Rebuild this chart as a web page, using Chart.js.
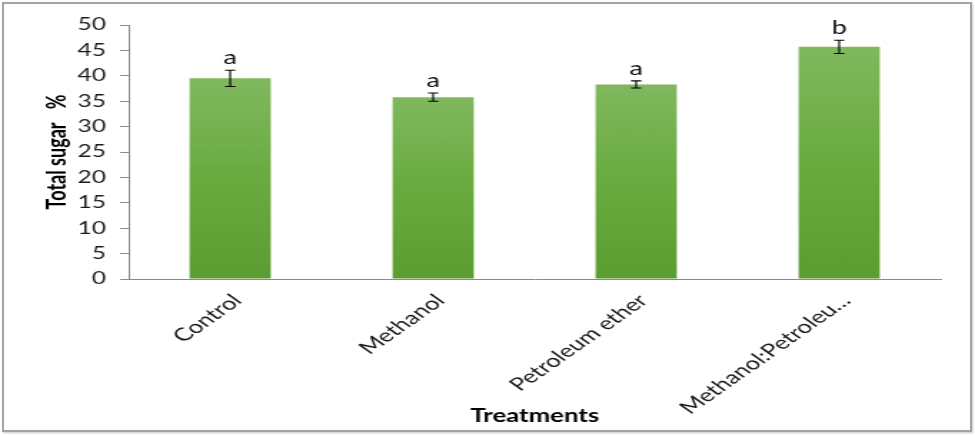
<!DOCTYPE html>
<html>
<head>
<meta charset="utf-8">
<script src="https://cdn.jsdelivr.net/npm/chart.js@4.4.1/dist/chart.umd.min.js"></script>
<style>
  html, body { margin: 0; padding: 0; background: #ffffff; }
  body { width: 975px; height: 435px; position: relative; overflow: hidden; }
  #frame { position: absolute; left: 2px; top: 2px; width: 966px; height: 426px;
           border: 2px solid #a3a3a3; box-shadow: 1px 1px 2px #c8c8c8; }
  #wrap { position: absolute; left: 0; top: 0; width: 682px; height: 435px;
          transform: scaleX(1.4296); transform-origin: 0 0; }
  canvas { display: block; }
</style>
</head>
<body>
<div id="frame"></div>
<div id="wrap"><canvas id="c" width="682" height="435"></canvas></div>
<script>
// ---- data ----
const categories = ["Control", "Methanol", "Petroleum ether", "Methanol:Petroleu\u2026"];
const totalSugar = [39.5, 35.8, 38.3, 45.7];
const errors = [1.6, 0.8, 0.7, 1.3];
const groupLetters = ["a", "a", "a", "b"];
const yTicks = [0, 5, 10, 15, 20, 25, 30, 35, 40, 45, 50];

const FONT = "Lato, 'Open Sans', 'DejaVu Sans', sans-serif";

function barGradient(ctx) {
  const chart = ctx.chart;
  const area = chart.chartArea;
  if (!area || ctx.type !== 'data') return '#6aab40';
  const ys = chart.scales.y;
  const top = ys.getPixelForValue(ctx.parsed ? ctx.parsed.y : totalSugar[ctx.dataIndex]);
  const bottom = ys.getPixelForValue(0);
  const g = chart.ctx.createLinearGradient(0, top, 0, bottom);
  g.addColorStop(0, '#80b85e');
  g.addColorStop(0.5, '#69ab3f');
  g.addColorStop(1, '#5c9d31');
  return g;
}

const errorPlugin = {
  id: 'errorBarsLetters',
  afterDatasetsDraw(chart) {
    const ctx = chart.ctx;
    const ys = chart.scales.y;
    const meta = chart.getDatasetMeta(0);
    ctx.save();
    meta.data.forEach((bar, i) => {
      const x = bar.x;
      const yHi = ys.getPixelForValue(totalSugar[i] + errors[i]);
      const yLo = ys.getPixelForValue(totalSugar[i] - errors[i]);
      const cap = 3.6;
      ctx.strokeStyle = '#000000';
      ctx.lineWidth = 1.1;
      ctx.beginPath();
      ctx.moveTo(x, yHi); ctx.lineTo(x, yLo);
      ctx.moveTo(x - cap, yHi); ctx.lineTo(x + cap, yHi);
      ctx.moveTo(x - cap, yLo); ctx.lineTo(x + cap, yLo);
      ctx.stroke();
      ctx.fillStyle = '#111111';
      ctx.font = "19px " + FONT;
      ctx.textAlign = 'center';
      ctx.textBaseline = 'alphabetic';
      ctx.fillText(groupLetters[i], x, yHi - 6);
    });
    ctx.restore();
  }
};

new Chart(document.getElementById('c'), {
  type: 'bar',
  data: {
    labels: categories,
    datasets: [{
      label: 'Total sugar %',
      data: totalSugar,
      backgroundColor: barGradient,
      borderWidth: 0,
      barPercentage: 0.4,
      categoryPercentage: 1.0
    }]
  },
  options: {
    responsive: false,
    animation: false,
    devicePixelRatio: 1,
    layout: { padding: { left: 0, right: 24, top: 25, bottom: 0 } },
    plugins: { legend: { display: false }, tooltip: { enabled: false } },
    scales: {
      y: {
        min: 0, max: 50,
        afterFit(scale) { scale.width = 90; },
        afterBuildTicks(scale) { scale.ticks = yTicks.map(v => ({ value: v })); },
        ticks: { color: '#1a1a1a', padding: 10, font: { family: FONT, size: 17 } },
        grid: { drawOnChartArea: false, drawTicks: true, tickLength: 6, color: '#8a8a8a' },
        border: { display: true, color: '#8a8a8a', width: 1 },
        title: {
          display: true, text: 'Total sugar   %', color: '#000000',
          font: { family: FONT, size: 18, weight: 'bold' },
          padding: { top: 29, bottom: 0 }
        }
      },
      x: {
        afterFit(scale) { scale.height = 156; },
        ticks: { color: '#1a1a1a', maxRotation: 45, minRotation: 45, padding: 11, labelOffset: 5,
                 autoSkip: false, font: { family: FONT, size: 18 } },
        grid: { display: false, drawTicks: false },
        border: { display: true, color: '#8a8a8a', width: 1 },
        title: {
          display: true, text: 'Treatments', color: '#000000',
          font: { family: FONT, size: 18, weight: 'bold' },
          padding: { top: 0, bottom: 8 }
        }
      }
    }
  },
  plugins: [errorPlugin]
});
</script>
</body>
</html>
